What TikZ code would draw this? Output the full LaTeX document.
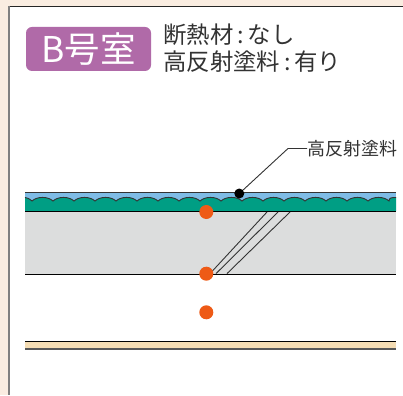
\documentclass[tikz,border=0pt]{standalone}
\usepackage{fontspec}
\setmainfont{Noto Sans CJK JP}
\definecolor{pagebg}{HTML}{FAEDE1}
\definecolor{badge}{HTML}{B06AA8}
\definecolor{sky}{HTML}{7FBCE6}
\definecolor{teal}{HTML}{009E84}
\definecolor{slab}{HTML}{DCDDDD}
\definecolor{wood}{HTML}{F5DDB4}
\definecolor{dotorange}{HTML}{EE5A16}
\definecolor{ink}{HTML}{333333}
\tikzset{
  x=1pt,y=-1pt,
  orangedot/.style={circle,fill=dotorange,inner sep=0pt,minimum size=14pt},
  caption/.style={inner sep=0pt,text=ink,anchor=west,font=\fontsize{23.4}{25}\selectfont},
  thinline/.style={draw=ink,line width=0.9pt},
}
\begin{document}
\begin{tikzpicture}
\useasboundingbox (0,0) rectangle (403,395);
\fill[pagebg] (0,0) rectangle (403,395);
\fill[white] (9,6) rectangle (403,395);
\draw[line width=1.2pt,black!85] (403,6.3) -- (9,6.3);
\draw[line width=1.8pt,black!50] (9,6) -- (9,395);
% badge
\node[fill=badge,rounded corners=6pt,minimum width=125pt,minimum height=44pt,inner sep=0pt,text=white,font=\fontsize{35.5}{37}\selectfont] (badge) at (88.5,49) {B号室};
\node[caption] (line1) at (163,35) {断熱材\,:\,なし};
\node[caption] (line2) at (163,62) {高反射塗料\,:\,有り};
% roof layers
\fill[sky] (25,193) rectangle (396,201);
\fill[teal] (25,197.5) .. controls (27,197.5) and (29,198.5) .. (32,201)
  \foreach \i in {0,...,16} { .. controls (32+21*\i+5,196.2) and (32+21*\i+16,196.2) .. (32+21*\i+21,201) }
  .. controls (389,197.5) and (392,197.5) .. (396,197.5) -- (396,211) -- (25,211) -- cycle;
\draw[line width=0.9pt,ink] (25,197.5) .. controls (27,197.5) and (29,198.5) .. (32,201)
  \foreach \i in {0,...,16} { .. controls (32+21*\i+5,196.2) and (32+21*\i+16,196.2) .. (32+21*\i+21,201) }
  .. controls (389,197.5) and (392,197.5) .. (396,197.5);
\fill[slab] (25,211.5) rectangle (396,274);
\draw[line width=0.9pt,ink] (25,192.7) -- (396,192.7);
\draw[line width=1.1pt,black] (25,211.5) -- (396,211.5);
\draw[line width=1.1pt,black] (25,274.3) -- (396,274.3);
% diagonal joints
\coordinate (j1a) at (267,212); \coordinate (j1b) at (210,273.6);
\coordinate (j2a) at (278,212); \coordinate (j2b) at (216,273.6);
\coordinate (j3a) at (290,212); \coordinate (j3b) at (227,273.6);
\draw[thinline] (j1a) -- (j1b);
\draw[thinline] (j2a) -- (j2b);
\draw[thinline] (j3a) -- (j3b);
% floor strip
\fill[wood] (25,341) rectangle (396,348.5);
\draw[line width=1.1pt,black] (25,341.2) -- (396,341.2);
\draw[line width=1.6pt,black!65] (25,349) -- (396,349);
% points
\node[orangedot] (p1) at (206.3,212) {};
\node[orangedot] (p2) at (206.3,273.7) {};
\node[orangedot] (p3) at (206.3,312.3) {};
% leader
\node[circle,fill=black,inner sep=0pt,minimum size=10pt] (lead) at (239.3,193.5) {};
\node[inner sep=0pt,anchor=west,text=ink,font=\fontsize{18}{20}\selectfont] (lab) at (307,148.5) {高反射塗料};
\coordinate (elbow) at (288,148.5);
\draw[thinline] (lead) -- (elbow) -- (lab.west);
\end{tikzpicture}
\end{document}
